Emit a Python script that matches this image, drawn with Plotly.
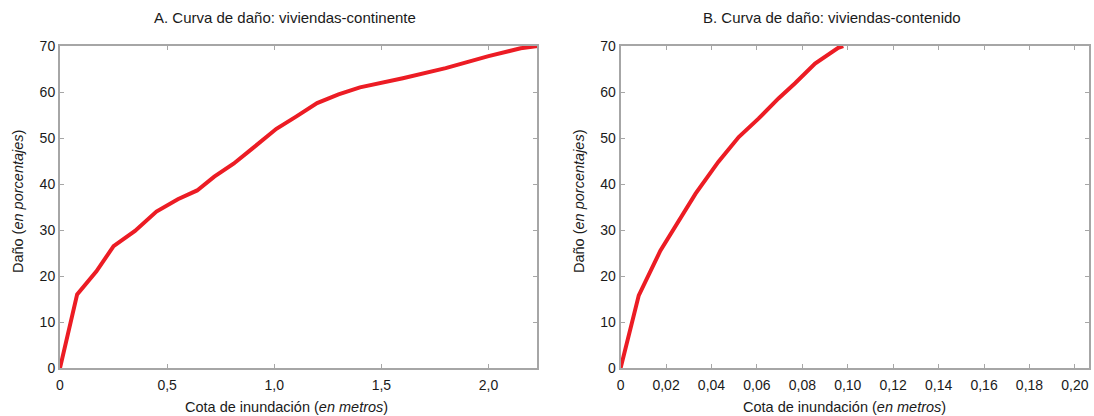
import plotly.graph_objects as go

# Panel A: viviendas-continente
cota_a = [0, 0.08, 0.17, 0.25, 0.35, 0.45, 0.55, 0.64, 0.72, 0.81, 0.90, 1.01, 1.10, 1.20, 1.30, 1.40, 1.60, 1.80, 2.00, 2.15, 2.23]
dano_a = [0, 16, 21, 26.5, 29.8, 34, 36.7, 38.6, 41.6, 44.4, 47.8, 52, 54.6, 57.6, 59.5, 61, 63, 65.2, 67.8, 69.5, 70]

# Panel B: viviendas-contenido
cota_b = [0, 0.008, 0.0175, 0.0255, 0.033, 0.043, 0.052, 0.0607, 0.0695, 0.0768, 0.0856, 0.0958, 0.098]
dano_b = [0, 15.8, 25.5, 31.7, 37.9, 44.8, 50.2, 54.2, 58.6, 61.9, 66.2, 69.6, 70]

xticks_a = [0, 0.5, 1.0, 1.5, 2.0]
xlabels_a = ["0", "0,5", "1,0", "1,5", "2,0"]
xticks_b = [0, 0.02, 0.04, 0.06, 0.08, 0.10, 0.12, 0.14, 0.16, 0.18, 0.20]
xlabels_b = ["0", "0,02", "0,04", "0,06", "0,08", "0,10", "0,12", "0,14", "0,16", "0,18", "0,20"]
yticks = [0, 10, 20, 30, 40, 50, 60, 70]

titles = ["A. Curva de daño: viviendas-continente", "B. Curva de daño: viviendas-contenido"]
xtitle_text = "Cota de inundación (<i>en metros</i>)"
ytitle_text = "Daño (<i>en porcentajes</i>)"

RED = "#ec1c24"
GRAY = "#a6a6a6"
FONT = "Liberation Sans, Arial, sans-serif"
TXT = "#1a1a1a"

L, R, T, B = 60, 3, 46, 48
W, H = 1094, 416
PW, PH = W - L - R, H - T - B


def px(xp):
    return (xp - L) / PW


def py(yp):
    return (H - B - yp) / PH


fig = go.Figure()
fig.add_trace(go.Scatter(x=cota_a, y=dano_a, mode="lines", line=dict(color=RED, width=4),
                         xaxis="x", yaxis="y", showlegend=False))
fig.add_trace(go.Scatter(x=cota_b, y=dano_b, mode="lines", line=dict(color=RED, width=4),
                         xaxis="x2", yaxis="y2", showlegend=False))

axis_common = dict(showline=True, linecolor=GRAY, linewidth=2, mirror="ticks", ticks="inside",
                   ticklen=4, tickcolor=GRAY, tickwidth=1, showgrid=False, zeroline=False,
                   tickfont=dict(size=14, color=TXT))

fig.update_layout(
    width=W, height=H,
    margin=dict(l=L, r=R, t=T, b=B),
    paper_bgcolor="white", plot_bgcolor="white",
    font=dict(family=FONT, color=TXT),
    xaxis=dict(domain=[0, px(538.3)], range=[0, 2.228], tickvals=xticks_a, ticktext=xlabels_a,
               anchor="y", ticklabelstandoff=3, **axis_common),
    yaxis=dict(range=[0, 70], tickvals=yticks, anchor="x", **axis_common),
    xaxis2=dict(domain=[px(621.7), 1], range=[0, 0.2062], tickvals=xticks_b, ticktext=xlabels_b,
                anchor="y2", ticklabelstandoff=3, **axis_common),
    yaxis2=dict(range=[0, 70], tickvals=yticks, anchor="x2", **axis_common),
)

for t, xc in zip(titles, [285, 833]):
    fig.add_annotation(text=t, x=px(xc), xref="paper", xanchor="center", y=py(17), yref="paper",
                       yanchor="middle", showarrow=False, font=dict(size=15, color=TXT))
for xc in [287, 846]:
    fig.add_annotation(text=xtitle_text, x=px(xc), xref="paper", xanchor="center", y=py(407),
                       yref="paper", yanchor="middle", showarrow=False, font=dict(size=14.5, color=TXT))
for xc in [18, 580]:
    fig.add_annotation(text=ytitle_text, x=px(xc), xref="paper", xanchor="center", y=py(201),
                       yref="paper", yanchor="middle", textangle=-90, showarrow=False,
                       font=dict(size=14.5, color=TXT))

fig.write_html("out.html")
